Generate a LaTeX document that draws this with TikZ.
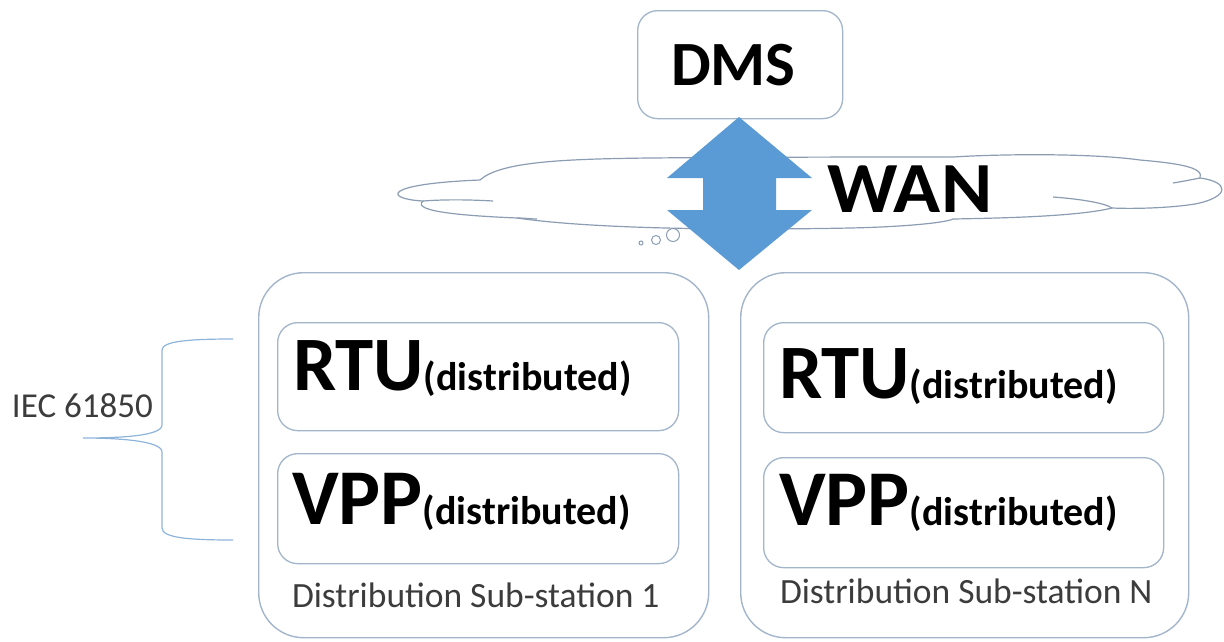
\documentclass[tikz,border=0pt]{standalone}
\usepackage{fontspec}
\setmainfont{Carlito}
\newcommand{\setfs}[1]{\fontsize{#1}{#1}\selectfont}
\definecolor{boxline}{HTML}{A3B5CA}
\definecolor{cloudline}{HTML}{8C9DB3}
\definecolor{arrowblue}{HTML}{5B9BD5}
\definecolor{braceblue}{HTML}{8FB4DA}
\definecolor{labelgray}{HTML}{3C3C3C}
\tikzset{
  panel/.style={draw=boxline, line width=1.4pt, rounded corners=45pt, inner sep=0pt, anchor=north west},
  unitbox/.style={draw=boxline, line width=1.3pt, rounded corners=20pt, inner sep=0pt, anchor=north west, fill=white},
  txt/.style={anchor=base west, inner sep=0pt, outer sep=0pt},
  bigword/.style={txt, font=\bfseries, text=black},
  caption/.style={txt, text=labelgray},
}
\begin{document}
\begin{tikzpicture}[x=1pt, y=-1pt]
\useasboundingbox (0,0) rectangle (1224,641);

% WAN cloud
\draw[cloudline, line width=1.2pt, fill=white]
  (480,180) .. controls (500,162) and (560,159) .. (650,158)
  .. controls (760,157) and (880,157) .. (953,157)
  .. controls (1000,154) and (1090,153) .. (1140,160)
  .. controls (1175,163) and (1205,167) .. (1200,178)
  .. controls (1230,182) and (1230,197) .. (1195,204)
  .. controls (1170,208) and (1135,209) .. (1112,208)
  .. controls (1080,216) and (1010,218) .. (953,219)
  .. controls (945,223) and (900,227) .. (850,228)
  .. controls (750,230) and (600,230) .. (517,218)
  .. controls (470,216) and (410,212) .. (423,201)
  .. controls (385,199) and (380,184) .. (480,180) -- cycle;
\draw[cloudline, line width=1.2pt]
  (423,201) .. controls (450,199) and (475,200) .. (493,201);
\draw[cloudline, line width=1.2pt]
  (517,218) .. controls (525,218) and (532,219) .. (537,219);
\draw[cloudline, line width=1.2pt]
  (1053,197) .. controls (1080,199) and (1105,203) .. (1112,208);
\draw[cloudline, line width=1.2pt]
  (1173,183) .. controls (1185,181) and (1195,179) .. (1200,178);
% thought bubbles
\draw[cloudline, line width=1pt] (641,243) circle (2);
\draw[cloudline, line width=1pt] (656,240) circle (4.5);
\draw[cloudline, line width=1pt] (673,235) circle (6.5);

% DMS box
\node[unitbox, minimum width=205pt, minimum height=108pt] (dms) at (637,10) {};
\node[bigword, font=\bfseries\setfs{63}] (dmstext) at (671,85) {DMS};

% double block arrow between DMS and the network
\fill[arrowblue] (739,117) -- (812,178) -- (776,178) -- (776,210) -- (812,210)
  -- (739,270) -- (667,210) -- (703,210) -- (703,178) -- (667,178) -- cycle;

% WAN label
\node[bigword, font=\bfseries\setfs{72}] (wantext) at (827,212) {\scalebox{1.08}[1]{WAN}};

% substations
\node[panel, minimum width=450pt, minimum height=365pt] (sub1) at (258,272) {};
\node[panel, minimum width=448pt, minimum height=365pt] (subN) at (740,272) {};

\node[unitbox, minimum width=401pt, minimum height=108pt] (rtu1) at (277,322) {};
\node[unitbox, minimum width=401pt, minimum height=110pt] (vpp1) at (277,453) {};
\node[unitbox, minimum width=400pt, minimum height=110pt] (rtuN) at (763,322) {};
\node[unitbox, minimum width=400pt, minimum height=110pt] (vppN) at (763,457) {};

\node[txt] (rtu1text) at (293,390) {{\bfseries\setfs{77}RTU}{\bfseries\setfs{40}(distributed)}};
\node[txt] (vpp1text) at (292,524) {{\bfseries\setfs{79}VPP}{\bfseries\setfs{40}(distributed)}};
\node[txt] (rtuNtext) at (779,398) {{\bfseries\setfs{77}RTU}{\bfseries\setfs{40}(distributed)}};
\node[txt] (vppNtext) at (779,525) {{\bfseries\setfs{79}VPP}{\bfseries\setfs{40}(distributed)}};

\node[caption, font=\setfs{35.5}] (cap1) at (292,607) {Distribution Sub-station 1};
\node[caption, font=\setfs{35.5}] (capN) at (780,603) {Distribution Sub-station N};

% IEC 61850 brace
\draw[braceblue, line width=1.2pt]
  (233,339) .. controls (190,339) and (162,341) .. (162,350) -- (162,425)
  .. controls (162,436) and (120,438) .. (83,438)
  .. controls (120,438) and (162,441) .. (162,452) -- (162,528)
  .. controls (162,538) and (190,540) .. (233,540);
\node[caption, font=\setfs{35}] (iec) at (12,417) {IEC 61850};
\end{tikzpicture}
\end{document}
